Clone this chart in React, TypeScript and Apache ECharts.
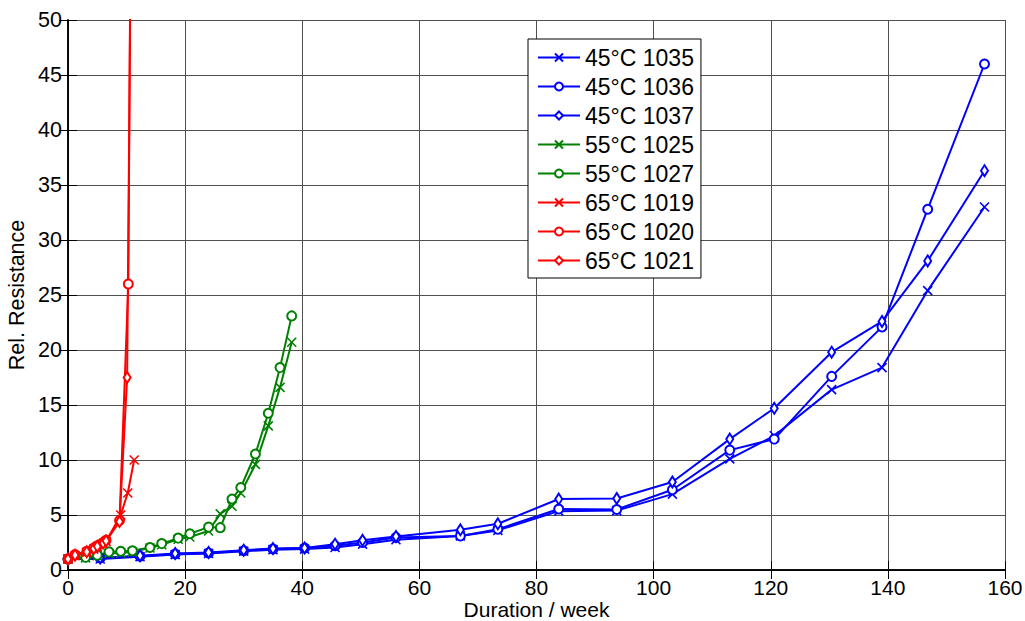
import React, { useEffect, useRef } from "react";
import * as echarts from "echarts";

// ---- data ----
const blueWeeks = [0, 5.5, 12.3, 18.3, 24, 30, 35, 40.4, 45.6, 50.3, 56, 67, 73.4, 83.8, 93.7, 103.2, 113, 120.6, 130.4, 139, 146.8, 156.5];
const r1035 = [1.0, 1.0, 1.2, 1.4, 1.5, 1.7, 1.85, 1.9, 2.05, 2.35, 2.75, 3.1, 3.6, 5.35, 5.4, 6.9, 10.1, 12.2, 16.4, 18.4, 25.4, 33.0];
const r1036 = [1.0, 1.1, 1.25, 1.45, 1.55, 1.75, 1.9, 2.0, 2.2, 2.5, 2.95, 3.1, 3.7, 5.55, 5.5, 7.3, 10.9, 11.9, 17.6, 22.1, 32.8, 46.0];
const r1037 = [1.0, 1.1, 1.3, 1.5, 1.6, 1.8, 1.95, 2.0, 2.35, 2.7, 3.05, 3.65, 4.2, 6.45, 6.5, 8.0, 11.9, 14.7, 19.8, 22.6, 28.1, 36.3];

const greenWeeks = [0, 3, 5, 7, 9, 11, 14, 16, 18.8, 20.8, 24, 26, 28, 29.5, 32, 34.2, 36.2, 38.2];
const r1025 = [1.0, 1.1, 1.3, 1.5, 1.55, 1.65, 2.0, 2.3, 2.8, 3.0, 3.55, 5.1, 5.8, 7.0, 9.6, 13.1, 16.6, 20.7];
const r1027 = [1.0, 1.15, 1.35, 1.65, 1.7, 1.75, 2.05, 2.4, 2.9, 3.3, 3.9, 3.85, 6.45, 7.5, 10.55, 14.25, 18.4, 23.1];

const weeks1019 = [0, 1.2, 3.2, 4.4, 5, 6, 6.5, 9, 10.2, 11.3];
const r1019 = [1.0, 1.3, 1.6, 1.9, 2.1, 2.4, 2.6, 5.0, 7.0, 10.0];
const weeks1020 = [0, 1.2, 3.2, 4.4, 5, 6, 6.5, 8.8, 10.3, 11.3];
const r1020 = [1.0, 1.4, 1.7, 2.0, 2.2, 2.5, 2.7, 4.5, 26.0, 110];
const weeks1021 = [0, 1.2, 3.2, 4.4, 5, 6, 6.5, 8.8, 10.1, 11.3];
const r1021 = [1.0, 1.35, 1.65, 1.95, 2.15, 2.45, 2.65, 4.4, 17.5, 95];

const seriesNames = [
  "45°C 1035", "45°C 1036", "45°C 1037",
  "55°C 1025", "55°C 1027",
  "65°C 1019", "65°C 1020", "65°C 1021",
];

const xTitle = "Duration / week";
const yTitle = "Rel. Resistance";

const FONT = "'Liberation Sans', Arial, Helvetica, sans-serif";
const BLUE = "#0000ff";
const GREEN = "#008000";
const RED = "#ff0000";
const X_SYMBOL = "path://M0,0L10,10M10,0L0,10";

type Marker = "x" | "o" | "d";

function makeSeries(name: string, xs: number[], ys: number[], color: string, marker: Marker) {
  let symbol: string = "emptyCircle";
  let symbolSize: any = 9;
  if (marker === "x") {
    symbol = X_SYMBOL;
    symbolSize = 9;
  } else if (marker === "d") {
    symbol = "emptyDiamond";
    symbolSize = [7, 11];
  }
  return {
    name,
    type: "line",
    data: xs.map((x, i) => [x, ys[i]]),
    symbol,
    symbolSize,
    showAllSymbol: true,
    clip: true,
    color,
    lineStyle: { color, width: 2 },
    itemStyle: { color, borderColor: color, borderWidth: 1.6 },
    emphasis: { disabled: true },
  };
}

export default function App() {
  const ref = useRef<HTMLDivElement>(null);
  useEffect(() => {
    if (!ref.current) return;
    const chart = echarts.init(ref.current, undefined, { renderer: "svg" });
    const gridLine = { show: true, lineStyle: { color: "#505050", width: 1 } };
    const axisLine = { show: true, lineStyle: { color: "#000", width: 1.5 } };
    const axisTickIn = { show: true, inside: true, length: 9, lineStyle: { color: "#000", width: 1 } };
    const option: any = {
      animation: false,
      backgroundColor: "#fff",
      grid: { left: 68, right: 20, top: 20, bottom: 51, containLabel: false, outerBoundsMode: "none" },
      xAxis: [
        {
          type: "value", min: 0, max: 160, interval: 20,
          axisLine, axisTick: axisTickIn, splitLine: gridLine,
          axisLabel: { color: "#000", fontSize: 21, fontFamily: FONT, margin: 8, lineHeight: 18 },
          name: xTitle, nameLocation: "middle", nameGap: 29, nameMoveOverlap: false,
          nameTextStyle: { color: "#000", fontSize: 21, fontFamily: FONT, lineHeight: 20 },
        },
        {
          type: "value", position: "top", min: 0, max: 160, interval: 20,
          axisLine, axisTick: axisTickIn, splitLine: { show: false }, axisLabel: { show: false },
        },
      ],
      yAxis: [
        {
          type: "value", min: 0, max: 50, interval: 5,
          axisLine, axisTick: axisTickIn, splitLine: gridLine,
          axisLabel: { color: "#000", fontSize: 21.5, fontFamily: FONT, margin: 6 },
          name: yTitle, nameLocation: "middle", nameGap: 40, nameRotate: 90, nameMoveOverlap: false,
          nameTextStyle: { color: "#000", fontSize: 21.5, fontFamily: FONT },
        },
        {
          type: "value", position: "right", min: 0, max: 50, interval: 5,
          axisLine, axisTick: axisTickIn, splitLine: { show: false }, axisLabel: { show: false },
        },
      ],
      legend: {
        show: true,
        orient: "vertical",
        left: 528,
        top: 39,
        padding: [7, 7, 6, 9],
        itemWidth: 42,
        itemHeight: 10,
        itemGap: 6,
        backgroundColor: "#fff",
        borderColor: "#000",
        borderWidth: 1,
        borderRadius: 0,
        data: seriesNames,
        textStyle: { color: "#000", fontSize: 23, fontFamily: FONT, lineHeight: 22 },
        selectedMode: false,
      },
      series: [
        makeSeries(seriesNames[0], blueWeeks, r1035, BLUE, "x"),
        makeSeries(seriesNames[1], blueWeeks, r1036, BLUE, "o"),
        makeSeries(seriesNames[2], blueWeeks, r1037, BLUE, "d"),
        makeSeries(seriesNames[3], greenWeeks, r1025, GREEN, "x"),
        makeSeries(seriesNames[4], greenWeeks, r1027, GREEN, "o"),
        makeSeries(seriesNames[5], weeks1019, r1019, RED, "x"),
        makeSeries(seriesNames[6], weeks1020, r1020, RED, "o"),
        makeSeries(seriesNames[7], weeks1021, r1021, RED, "d"),
      ],
    };
    chart.setOption(option);
    return () => chart.dispose();
  }, []);
  return (
    <div
      ref={ref}
      style={{ position: "fixed", left: 0, top: 0, width: 1025, height: 621, background: "#fff" }}
    />
  );
}
